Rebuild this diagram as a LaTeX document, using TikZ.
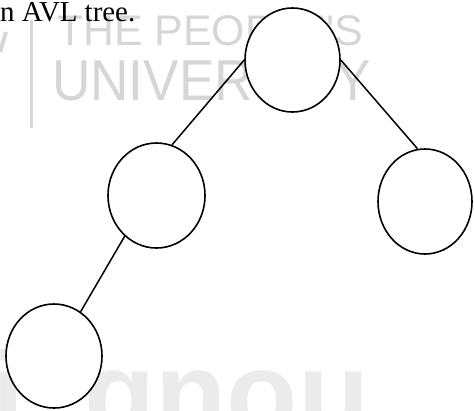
\documentclass[tikz,border=0pt]{standalone}
\usepackage{fontspec}
\usepackage{graphicx}
\setmainfont{Liberation Serif}
\newfontfamily\wmfont{Liberation Sans}
\usetikzlibrary{shapes.geometric}
\definecolor{wm}{HTML}{D6D6D6}
\definecolor{wmlight}{HTML}{EBEBEB}
\begin{document}
\begin{tikzpicture}[x=1bp,y=-1bp,
  treenode/.style={ellipse, draw, line width=1.6bp, fill=white, inner sep=0pt,
                   minimum width=95bp, minimum height=104bp},
  edge/.style={line width=1.5bp},
  wmtext/.style={anchor=base west, inner sep=0pt, text=wm}]
\useasboundingbox (0,0) rectangle (474,410);
\clip (0,0) rectangle (474,410);
% watermark
\node[wmtext, font=\wmfont\fontsize{43}{43}\selectfont] (wmA) at (57,45) {THE PEOPLE'S};
\node[wmtext, font=\wmfont\fontsize{58}{58}\selectfont] (wmB) at (52,100) {\scalebox{0.92}[1]{UNIVERSITY}};
\coordinate (barT) at (31.5,20);
\coordinate (barB) at (31.5,128);
\draw[wm, line width=3bp] (barT) -- (barB);
\coordinate (logoA) at (0,52);
\coordinate (logoB) at (6,32);
\draw[wm, line width=4bp] (logoA) -- (logoB);
\node[wmtext, text=wmlight, font=\wmfont\bfseries\fontsize{117}{117}\selectfont] (wmC) at (-8,433) {i\kern60bp gnou};
% caption fragment
\node[anchor=base west, inner sep=0pt, font=\fontsize{29}{29}\selectfont] (cap) at (0,21) {n AVL tree.};
% tree
\node[treenode] (root) at (292.5,60) {};
\node[treenode, minimum width=97bp, minimum height=105bp] (L) at (156.5,195.5) {};
\node[treenode, minimum width=94bp, minimum height=105bp] (R) at (425,201.5) {};
\node[treenode, minimum width=96bp] (LL) at (54,356) {};
\draw[edge] (root.180) -- (L.73);
\draw[edge] (root.0) -- (R.98);
\draw[edge] (L.232) -- (LL.59);
\end{tikzpicture}
\end{document}
